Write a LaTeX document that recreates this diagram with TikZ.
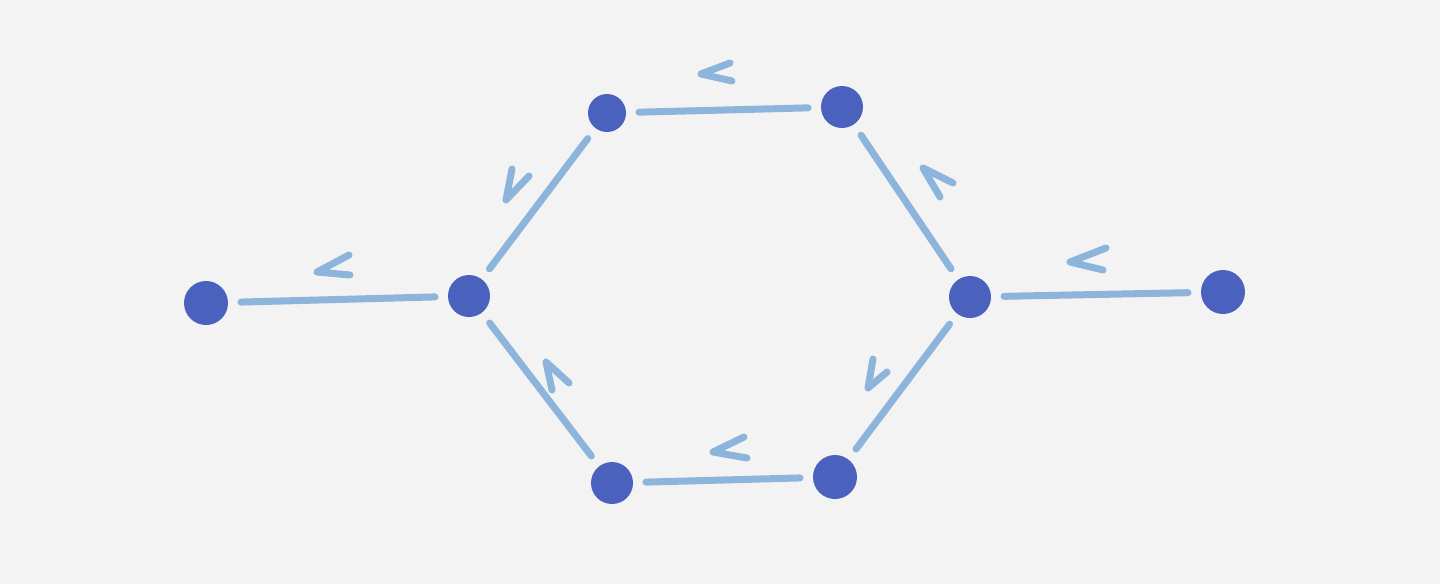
\documentclass[tikz,border=0pt]{standalone}
\definecolor{paper}{HTML}{F3F3F3}
\definecolor{dotblue}{HTML}{4A61BE}
\definecolor{edgeblue}{HTML}{8DB5DC}
\tikzset{
  dot/.style={circle,fill=dotblue,draw=none,inner sep=0pt,minimum size=21pt,outer sep=6.5pt},
  edge/.style={draw=edgeblue,line width=3.5pt,line cap=round},
  chev/.style={draw=edgeblue,line width=3.5pt,line cap=round,line join=round}
}
\begin{document}
\begin{tikzpicture}[x=0.5pt,y=-0.5pt]
\fill[paper] (0,0) rectangle (1440,584);
\useasboundingbox (0,0) rectangle (1440,584);
% nodes
\node[dot,minimum size=22pt] (L) at (206,303) {};
\node[dot] (A) at (469,296) {};
\node[dot,minimum size=19pt] (B) at (607,113) {};
\node[dot] (C) at (842,107) {};
\node[dot] (D) at (970,297) {};
\node[dot,minimum size=22pt] (R) at (1223,292) {};
\node[dot,minimum size=22pt] (E) at (835,477) {};
\node[dot] (F) at (612,483) {};
% edges
\draw[edge] (L) -- (A);
\draw[edge] (A) -- (B);
\draw[edge] (B) -- (C);
\draw[edge] (C) -- (D);
\draw[edge] (D) -- (R);
\draw[edge] (D) -- (E);
\draw[edge] (E) -- (F);
\draw[edge] (F) -- (A);
% direction marks
\draw[chev] (349,255) -- (317,272) -- (350,275);
\draw[chev] (730,63) -- (701,74) -- (732,81);
\draw[chev] (512,169) -- (506,200) -- (529,176);
\draw[chev] (940,197) -- (923,168) -- (953,183);
\draw[chev] (1106,248) -- (1070,262) -- (1103,270);
\draw[chev] (552,390) -- (546,362) -- (569,383);
\draw[chev] (873,359) -- (868,388) -- (887,372);
\draw[chev] (744,437) -- (713,452) -- (747,458);
\end{tikzpicture}
\end{document}
